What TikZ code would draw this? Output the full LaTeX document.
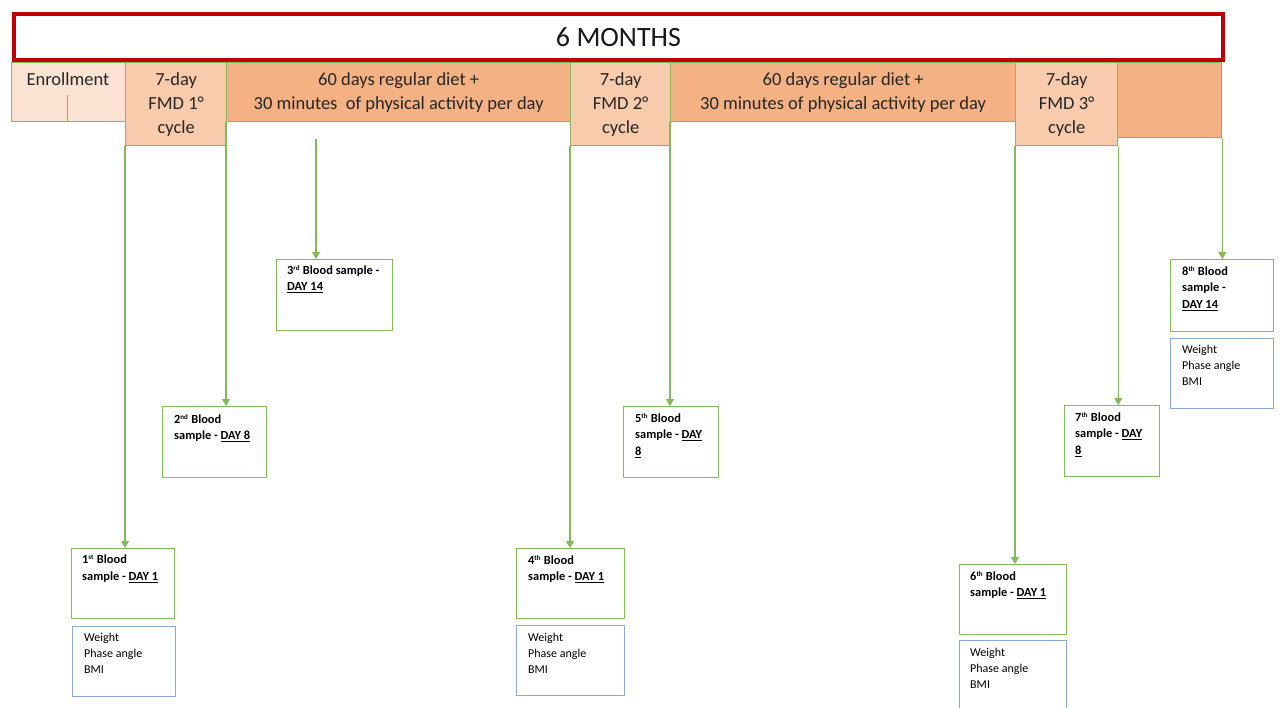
\documentclass[tikz,border=0pt]{standalone}
\usepackage{fontspec}
\setmainfont{Carlito}
\usetikzlibrary{arrows.meta}
\definecolor{redb}{RGB}{192,0,0}
\definecolor{grn}{RGB}{128,188,88}
\definecolor{blu}{RGB}{140,168,218}
\definecolor{enrf}{RGB}{251,227,211}
\definecolor{fmdf}{RGB}{248,203,173}
\definecolor{dietf}{RGB}{244,177,131}
\newcommand{\sups}[1]{\textsuperscript{\fontsize{7}{8}\selectfont #1}}
\tikzset{
  hdr/.style={draw=grn, line width=1.3pt, anchor=north west, inner sep=0pt, align=center,
    font=\fontsize{18.5}{24}\selectfont, text=black!85},
  bbox/.style={draw=grn, line width=1.3pt, fill=white, anchor=north west, inner sep=0pt},
  wbox/.style={draw=blu, line width=1.3pt, fill=white, anchor=north west, inner sep=0pt},
  btxt/.style={anchor=north west, inner sep=0pt, align=left, font=\fontsize{12.4}{16.5}\selectfont\bfseries},
  wtxt/.style={anchor=north west, inner sep=0pt, align=left, font=\fontsize{12}{15.8}\selectfont},
  arr/.style={draw=grn, line width=1.1pt, -{Triangle[width=8pt,length=7pt]}}
}
\begin{document}
\begin{tikzpicture}[x=1pt,y=-1pt]
\useasboundingbox (0,0) rectangle (1281,707);
\clip (0,0) rectangle (1281,707);
\fill[white] (0,0) rectangle (1281,707);

% top bar
\node[draw=redb, line width=4pt, fill=white, anchor=north west, minimum width=1209pt, minimum height=46pt,
  inner sep=0pt, font=\fontsize{28}{34}\selectfont, text=black!90] (months) at (12,12) {6 MONTHS};

% header row
\node[hdr, fill=enrf, minimum width=114pt, minimum height=59pt] (enr) at (11,62) {};
\node[anchor=center, inner sep=0pt, font=\fontsize{18.5}{24}\selectfont, text=black!85] (enrt) at (68,79) {Enrollment};
\coordinate (enrc) at (67,95);
\draw[grn, line width=0.8pt] (enrc) -- (enrc |- enr.south);

\node[hdr, fill=fmdf, minimum width=101pt, minimum height=83pt] (fmd1) at (125,62) {7-day\\FMD 1°\\cycle};
\node[hdr, fill=dietf, minimum width=344pt, minimum height=59pt] (d1) at (226,62)
  {60 days regular diet +\\30 minutes\ \ of physical activity per day};
\node[hdr, fill=fmdf, minimum width=100pt, minimum height=83pt] (fmd2) at (570,62) {7-day\\FMD 2°\\cycle};
\node[hdr, fill=dietf, minimum width=345pt, minimum height=59pt] (d2) at (670,62)
  {60 days regular diet +\\30 minutes of physical activity per day};
\node[hdr, fill=fmdf, minimum width=102pt, minimum height=83pt] (fmd3) at (1015,62) {7-day\\FMD 3°\\cycle};
\node[hdr, fill=dietf, minimum width=104pt, minimum height=75pt] (last) at (1117,62) {};

% blood sample boxes
\node[bbox, minimum width=103pt, minimum height=70pt] (b1) at (71,548) {};
\node[btxt] (t1) at (82,555) {1\sups{st} Blood\\sample - \underline{DAY 1}};
\node[wbox, minimum width=103pt, minimum height=70pt] (w1) at (72,626) {};
\node[wtxt] (u1) at (84,633) {Weight\\Phase angle\\BMI};

\node[bbox, minimum width=104pt, minimum height=71pt] (b2) at (162,406) {};
\node[btxt] (t2) at (174,414) {2\sups{nd} Blood\\sample - \underline{DAY 8}};

\node[bbox, minimum width=116pt, minimum height=71pt] (b3) at (276,259) {};
\node[btxt] (t3) at (287,265) {3\sups{rd} Blood sample -\\\underline{DAY 14}};

\node[bbox, minimum width=108pt, minimum height=70pt] (b4) at (516,548) {};
\node[btxt] (t4) at (528,555) {4\sups{th} Blood\\sample - \underline{DAY 1}};
\node[wbox, minimum width=108pt, minimum height=70pt] (w4) at (516,625) {};
\node[wtxt] (u4) at (528,633) {Weight\\Phase angle\\BMI};

\node[bbox, minimum width=95pt, minimum height=71pt] (b5) at (623,406) {};
\node[btxt] (t5) at (635,413) {5\sups{th} Blood\\sample - \underline{DAY}\\\underline{8}};

\node[bbox, minimum width=107pt, minimum height=70pt] (b6) at (959,564) {};
\node[btxt] (t6) at (970,571) {6\sups{th} Blood\\sample - \underline{DAY 1}};
\node[wbox, minimum width=107pt, minimum height=75pt] (w6) at (959,640) {};
\node[wtxt] (u6) at (970,648) {Weight\\Phase angle\\BMI};

\node[bbox, minimum width=95pt, minimum height=71pt] (b7) at (1064,405) {};
\node[btxt] (t7) at (1075,412) {7\sups{th} Blood\\sample - \underline{DAY}\\\underline{8}};

\node[bbox, minimum width=103pt, minimum height=72pt] (b8) at (1170,259) {};
\node[btxt] (t8) at (1182,266) {8\sups{th} Blood\\sample -\\\underline{DAY 14}};
\node[wbox, minimum width=103pt, minimum height=70pt] (w8) at (1170,338) {};
\node[wtxt] (u8) at (1182,345) {Weight\\Phase angle\\BMI};

% connectors
\coordinate (c3) at (316,139);
\draw[arr] (fmd1.south west) -- (fmd1.south west |- b1.north);
\draw[arr] (d1.south west) -- (d1.south west |- b2.north);
\draw[arr] (c3) -- (c3 |- b3.north);
\draw[arr] (fmd2.south west) -- (fmd2.south west |- b4.north);
\draw[arr] (d2.south west) -- (d2.south west |- b5.north);
\draw[arr] (fmd3.south west) -- (fmd3.south west |- b6.north);
\draw[arr] (fmd3.south east) -- (fmd3.south east |- b7.north);
\draw[arr] (last.south east) -- (last.south east |- b8.north);
\end{tikzpicture}
\end{document}
